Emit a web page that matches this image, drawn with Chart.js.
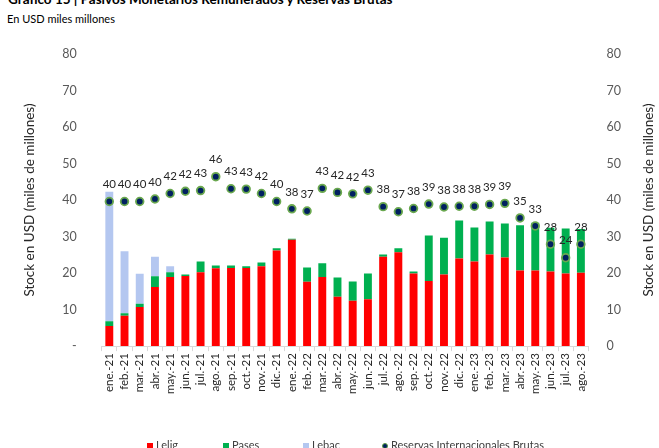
<!DOCTYPE html>
<html>
<head>
<meta charset="utf-8">
<script src="https://cdn.jsdelivr.net/npm/chart.js@4"></script>
<style>
body { margin: 0; background: #fff; font-family: Lato, sans-serif; }
#wrap { position: relative; width: 659px; height: 448px; overflow: hidden; }
#title { position: absolute; left: 8px; top: -9px; font-weight: bold; font-size: 13.5px; color: #000; white-space: nowrap; }
#sub { position: absolute; left: 7px; top: 12px; font-size: 11px; color: #000; white-space: nowrap; }
#chart { position: absolute; left: 0; top: 0; }
.leg { position: absolute; top: 438px; font-size: 11px; color: #404040; white-space: nowrap; }
.leg i { display: inline-block; width: 6px; height: 6px; margin-right: 3px; vertical-align: middle; }
.leg i.dot { border-radius: 50%; background: #002060; border: 1px solid #5b9b45; width: 4px; height: 4px; }
</style>
</head>
<body>
<div id="wrap">
  <div id="title">Gráfico 15 | Pasivos Monetarios Remunerados y Reservas Brutas</div>
  <div id="sub">En USD miles millones</div>
  <canvas id="chart" width="659" height="448"></canvas>
  <div class="leg" style="left:147px"><i style="background:#ff0000"></i>Lelig</div>
  <div class="leg" style="left:223px"><i style="background:#00b050"></i>Pases</div>
  <div class="leg" style="left:303px"><i style="background:#b4c7f0"></i>Lebac</div>
  <div class="leg" style="left:382px"><i class="dot"></i>Reservas Internacionales Brutas</div>
</div>
<script>
// meses
const labels = ["ene.-21","feb.-21","mar.-21","abr.-21","may.-21","jun.-21","jul.-21","ago.-21","sep.-21","oct.-21","nov.-21","dic.-21",
  "ene.-22","feb.-22","mar.-22","abr.-22","may.-22","jun.-22","jul.-22","ago.-22","sep.-22","oct.-22","nov.-22","dic.-22",
  "ene.-23","feb.-23","mar.-23","abr.-23","may.-23","jun.-23","jul.-23","ago.-23"];

// stock en USD miles de millones
const lelig = [5.5, 8.3, 10.7, 16.2, 18.9, 19.2, 20.2, 21.3, 21.4, 21.4, 21.9, 26.2,
  29.1, 17.6, 18.9, 13.5, 12.4, 12.8, 24.5, 25.7, 19.9, 17.8, 19.6, 24.0,
  23.2, 25.1, 24.3, 20.7, 20.7, 20.4, 19.9, 20.1];
const pases = [1.3, 0.7, 0.9, 2.9, 1.3, 0.4, 3.0, 0.8, 0.7, 0.5, 1.0, 0.6,
  0.3, 3.9, 3.8, 5.3, 5.3, 7.1, 0.6, 1.1, 0.5, 12.5, 10.1, 10.4,
  9.3, 9.0, 9.3, 12.4, 13.1, 12.0, 12.3, 12.0];
const lebac = [35.5, 17.0, 8.2, 5.4, 1.7, 0, 0, 0, 0, 0, 0, 0,
  0, 0, 0, 0, 0, 0, 0, 0, 0, 0, 0, 0,
  0, 0, 0, 0, 0, 0, 0, 0];
const reservas = [39.6, 39.6, 39.6, 40.3, 41.8, 42.4, 42.6, 46.4, 43.1, 43.0, 41.8, 39.6,
  37.6, 37.0, 43.2, 42.1, 41.7, 42.7, 38.2, 36.8, 37.7, 38.9, 38.1, 38.3,
  38.3, 38.8, 39.1, 35.1, 32.9, 27.9, 24.2, 27.9];

const yTicks = [0, 10, 20, 30, 40, 50, 60, 70, 80];
const axisTitle = "Stock en USD (miles de millones)";

// etiquetas de reservas arriba de cada punto + titulo del eje derecho (mismo sentido que el izquierdo)
const extras = {
  id: "extras",
  afterDatasetsDraw(chart) {
    const meta = chart.getDatasetMeta(0);
    const ctx = chart.ctx;
    ctx.save();
    ctx.font = "11.5px Lato";
    ctx.fillStyle = "#262626";
    ctx.textAlign = "center";
    ctx.textBaseline = "middle";
    meta.data.forEach((pt, i) => {
      ctx.fillText(Math.round(reservas[i]), pt.x, pt.y - 17);
    });
    const a = chart.chartArea;
    ctx.translate(649, (a.top + a.bottom) / 2);
    ctx.rotate(-Math.PI / 2);
    ctx.font = "13.5px Lato";
    ctx.fillText(axisTitle, 0, 0);
    ctx.restore();
  }
};

const tickFont = { family: "Lato", size: 12.5 };
const titleFont = { family: "Lato", size: 13.5 };

new Chart(document.getElementById("chart"), {
  data: {
    labels: labels,
    datasets: [
      {
        type: "line",
        label: "Reservas Internacionales Brutas",
        data: reservas,
        yAxisID: "y1",
        showLine: false,
        pointRadius: 3.8,
        pointBackgroundColor: "#002060",
        pointBorderColor: "#6aa84f",
        pointBorderWidth: 1.8,
        order: 0
      },
      { type: "bar", label: "Lelig", data: lelig, backgroundColor: "#ff0000", order: 1 },
      { type: "bar", label: "Pases", data: pases, backgroundColor: "#00b050", order: 1 },
      { type: "bar", label: "Lebac", data: lebac, backgroundColor: "#b4c7f0", order: 1 }
    ]
  },
  options: {
    responsive: false,
    animation: false,
    layout: { padding: { top: 54, left: 22, right: 28, bottom: 52 } },
    datasets: { bar: { barPercentage: 0.52, categoryPercentage: 1 } },
    plugins: { legend: { display: false }, tooltip: { enabled: false } },
    scales: {
      x: {
        stacked: true,
        grid: { drawOnChartArea: false, drawTicks: true, tickLength: 5, color: "#d9d9d9" },
        border: { color: "#d9d9d9" },
        ticks: { color: "#262626", font: { family: "Lato", size: 11.5 }, minRotation: 90, maxRotation: 90, padding: 2, autoSkip: false }
      },
      y: {
        stacked: true,
        min: 0, max: 80,
        afterBuildTicks: s => { s.ticks = yTicks.map(v => ({ value: v })); },
        grid: { display: false },
        border: { display: false },
        ticks: { color: "#595959", font: tickFont, padding: 17, callback: v => v === 0 ? "-" : v },
        title: { display: true, text: axisTitle, color: "#262626", font: titleFont, padding: { top: 0, bottom: 7 } }
      },
      y1: {
        position: "right",
        min: 0, max: 80,
        afterBuildTicks: s => { s.ticks = yTicks.map(v => ({ value: v })); },
        grid: { display: false },
        border: { display: false },
        ticks: { color: "#595959", font: tickFont, padding: 10 }
      }
    }
  },
  plugins: [extras]
});
</script>
</body>
</html>
